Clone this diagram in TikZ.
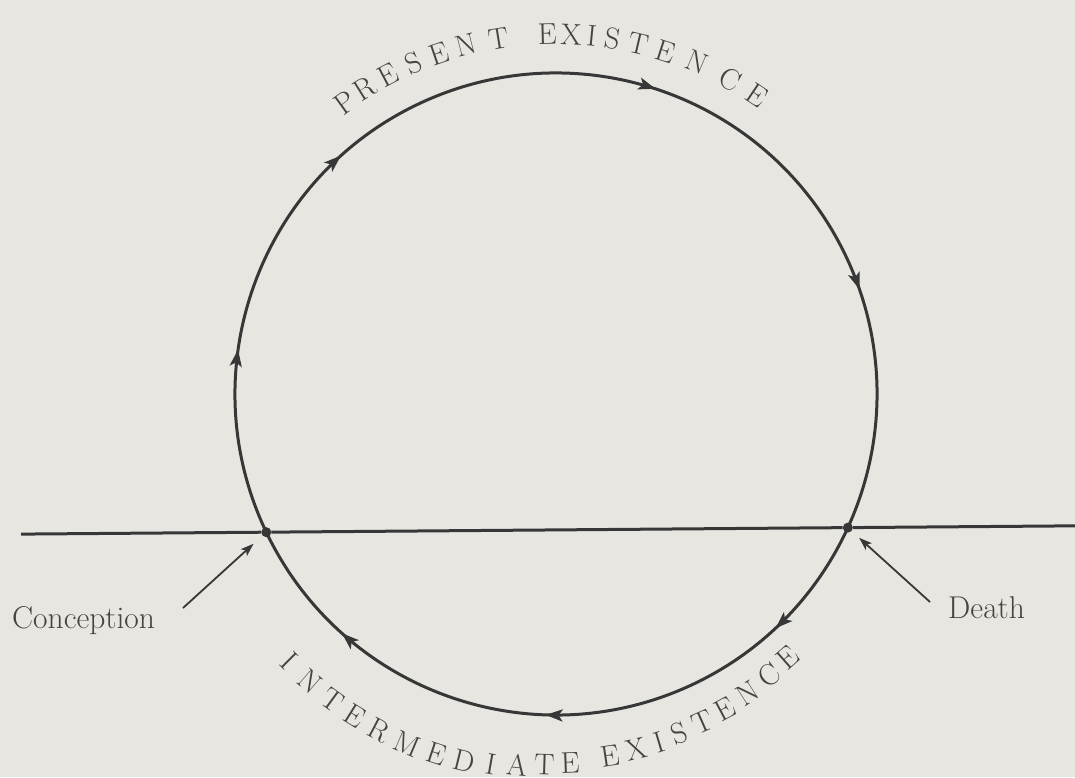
\documentclass[tikz,border=0pt]{standalone}
\usetikzlibrary{decorations.markings,arrows.meta,calc}
\definecolor{bg}{RGB}{232,230,225}
\definecolor{ink}{RGB}{55,55,55}
\definecolor{txt}{RGB}{68,68,68}
\begin{document}
\begin{tikzpicture}[x=1pt,y=1pt,
  ring/.style={draw=ink, line width=3pt},
  dotnode/.style={circle, fill=ink, inner sep=0pt, minimum size=10pt},
  lab/.style={font=\fontsize{31.5}{36}\selectfont, text=txt, inner sep=0pt},
  arcl/.style={font=\fontsize{30}{34}\selectfont, text=txt, inner sep=0pt, anchor=center},
  ptr/.style={draw=ink, line width=1.8pt, -{Stealth[length=13pt,width=9pt,inset=3pt]}}
]
\fill[bg] (0,0) rectangle (1075,777);
\useasboundingbox (0,0) rectangle (1075,777);
\coordinate (O) at (556,383);
% circle with direction arrows (clockwise)
\draw[ring, postaction={decorate}, decoration={markings,
  mark=at position 0.093 with {\arrow{Stealth[length=17pt,width=12pt,inset=4pt]}},
  mark=at position 0.204 with {\arrow{Stealth[length=17pt,width=12pt,inset=4pt]}},
  mark=at position 0.371 with {\arrow{Stealth[length=17pt,width=12pt,inset=4pt]}},
  mark=at position 0.518 with {\arrow{Stealth[length=17pt,width=12pt,inset=4pt]}},
  mark=at position 0.701 with {\arrow{Stealth[length=17pt,width=12pt,inset=4pt]}},
  mark=at position 0.826 with {\arrow{Stealth[length=17pt,width=12pt,inset=4pt]}},
  mark=at position 0.937 with {\arrow{Stealth[length=17pt,width=12pt,inset=4pt]}}}]
  (O) ++(205.5:321) arc[start angle=205.5, end angle=-154.5, radius=321];
% dots
\node[dotnode] (conc) at ($(O)+(205.5:321)$) {};
\node[dotnode] (death) at ($(O)+(-24.6:321)$) {};
% horizontal line
\coordinate (lineL) at ($(conc)!-0.4217!(death)$);
\coordinate (lineR) at ($(conc)!1.40!(death)$);
\draw[ring] (lineL) -- (conc) -- (death) -- (lineR);
% labels
\node[lab, anchor=base west] (conct) at (12,149) {Conception};
\node[lab, anchor=base west] (deatht) at (948,159) {Death};
\coordinate (ca) at (183,169);
\coordinate (da) at (930,175);
\draw[ptr, shorten >=12pt] (ca) -- (conc);
\draw[ptr, shorten >=10pt] (da) -- (death);
% top arc text
\foreach \ch/\a [count=\i] in {P/125.9, R/122.0, E/117.8, S/113.3, E/108.9, N/104.4, T/99.2,
  E/91.4, X/87.6, I/84.3, S/81.0, T/76.8, E/72.2, N/67.0, C/61.0, E/56.0}
  \node[arcl, rotate=\a-90] (top\i) at ($(O)+(\a:360)$) {\ch};
% bottom arc text
\foreach \ch/\a/\r [count=\i] in {I/-135.0/377, N/-130.6/378, T/-126.2/379, E/-122.0/380,
  R/-117.7/380, M/-113.0/380, E/-108.4/379, D/-104.0/378, I/-100.0/376, A/-96.0/373,
  T/-91.8/371, E/-87.8/369, E/-81.4/366, X/-77.2/364, I/-73.4/363, S/-70.0/361,
  T/-66.0/359, E/-61.8/357, N/-57.4/355, C/-52.9/353, E/-48.6/351}
  \node[arcl, rotate=\a+90] (bot\i) at ($(O)+(\a:\r)$) {\ch};
\end{tikzpicture}
\end{document}
